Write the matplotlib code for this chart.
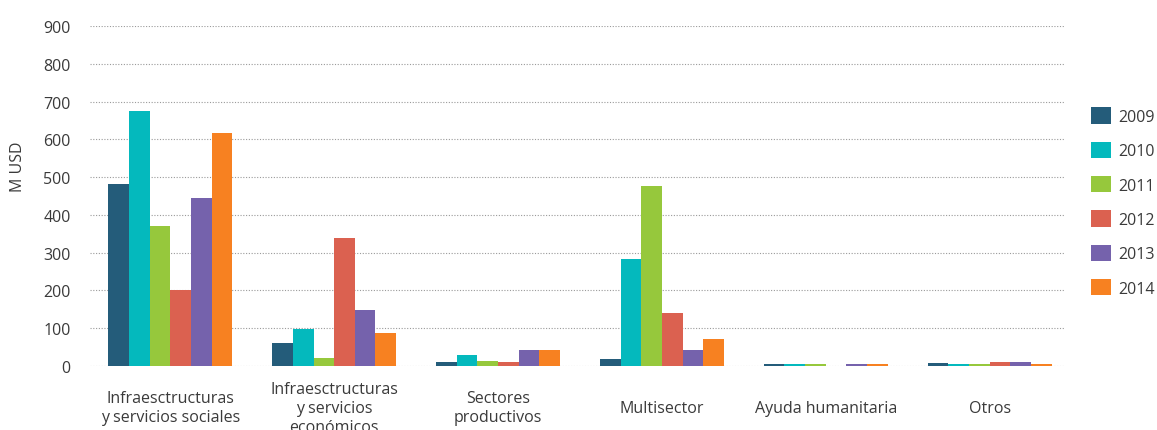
import numpy as np
import matplotlib.pyplot as plt

# ---- datos (M USD) ----
categorias = ["Infraesctructuras\ny servicios sociales",
              "Infraesctructuras\ny servicios\neconómicos",
              "Sectores\nproductivos",
              "Multisector",
              "Ayuda humanitaria",
              "Otros"]
anios = ["2009", "2010", "2011", "2012", "2013", "2014"]
v2009 = [481, 61, 11, 19, 5, 8]
v2010 = [675, 98, 29, 283, 5, 5]
v2011 = [370, 21, 13, 476, 5, 5]
v2012 = [201, 339, 11, 140, 0, 11]
v2013 = [444, 148, 42, 42, 5, 11]
v2014 = [616, 87, 42, 71, 5, 5]
series = [v2009, v2010, v2011, v2012, v2013, v2014]
colores = ["#245C7A", "#04B9BD", "#96C83C", "#DB6150", "#7562AC", "#F78121"]
yticks = [0, 100, 200, 300, 400, 500, 600, 700, 800, 900]

plt.rcParams['font.family'] = ['Open Sans', 'DejaVu Sans']
TXT = "#3a3a3a"

fig = plt.figure(figsize=(11.57, 4.31), dpi=100)
ax = fig.add_axes([90/1157, 1-367/431, (1065-90)/1157, (367-27)/431])

x = np.arange(len(categorias))
w = 0.126
for i, (vals, c, lab) in enumerate(zip(series, colores, anios)):
    ax.bar(x + (i - 2.5) * w, vals, width=w, color=c, label=lab, zorder=3)

ax.set_xlim(-0.49, 5.46)
ax.set_ylim(0, 900)
ax.set_yticks(yticks)
ax.set_yticklabels([str(t) for t in yticks], fontsize=11.5, color=TXT)
ax.set_xticks(x)
ax.set_xticklabels(categorias, fontsize=11.5, color=TXT, va='center',
                   linespacing=1.25)
ax.tick_params(axis='x', length=0, pad=30)
ax.tick_params(axis='y', length=0, pad=14)
ax.grid(axis='y', linestyle=(0, (1, 1.5)), color='#9a9a9a', linewidth=0.8, zorder=0)
for s in ax.spines.values():
    s.set_visible(False)

fig.text(18/1157, 1-167/431, "M USD", rotation=90, ha='center', va='center',
         fontsize=11.5, color=TXT)

leg = fig.legend(loc='upper left', bbox_to_anchor=(1085/1157, 1-102/431),
                 frameon=False, fontsize=11.5, handlelength=1.2, handleheight=1.2,
                 labelspacing=1.05, handletextpad=0.5, borderaxespad=0)
for t in leg.get_texts():
    t.set_color(TXT)

fig.savefig("out.png", dpi=100)
